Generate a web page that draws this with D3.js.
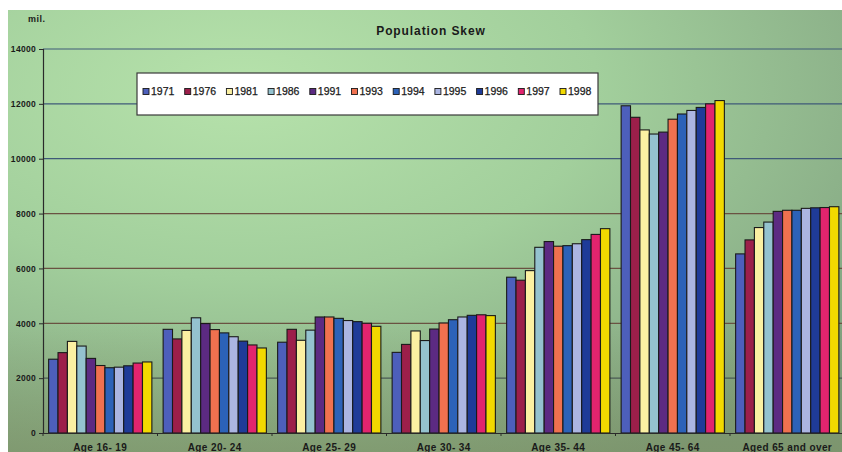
<!DOCTYPE html>
<html>
<head>
<meta charset="utf-8">
<script src="https://cdn.jsdelivr.net/npm/d3@7"></script>
<style>
  html, body { margin: 0; padding: 0; background: #fff; }
  svg { display: block; }
  text { font-family: "Liberation Sans", Arial, sans-serif; }
</style>
</head>
<body>
<svg id="chart" width="842" height="452"></svg>
<script>
// Age groups along the x axis
const categories = ["Age 16- 19", "Age 20- 24", "Age 25- 29", "Age 30- 34", "Age 35- 44", "Age 45- 64", "Aged 65 and over"];
// Census / estimate years (one bar each per age group)
const years = ["1971", "1976", "1981", "1986", "1991", "1993", "1994", "1995", "1996", "1997", "1998"];
// Population (thousands) per year, one value per age group
const s1971 = [2690, 3780, 3310, 2940, 5680, 11930, 6530];
const s1976 = [2930, 3430, 3780, 3230, 5570, 11510, 7040];
const s1981 = [3340, 3740, 3380, 3720, 5920, 11050, 7490];
const s1986 = [3170, 4200, 3750, 3370, 6770, 10900, 7690];
const s1991 = [2720, 3990, 4230, 3790, 6980, 10970, 8080];
const s1993 = [2460, 3770, 4230, 4010, 6810, 11440, 8120];
const s1994 = [2380, 3650, 4180, 4130, 6830, 11630, 8120];
const s1995 = [2400, 3510, 4100, 4230, 6900, 11760, 8190];
const s1996 = [2450, 3350, 4060, 4290, 7050, 11870, 8210];
const s1997 = [2550, 3210, 4000, 4310, 7240, 12000, 8220];
const s1998 = [2590, 3100, 3890, 4280, 7450, 12120, 8250];
const yTicks = [0, 2000, 4000, 6000, 8000, 10000, 12000, 14000];

const seriesValues = [s1971, s1976, s1981, s1986, s1991, s1993, s1994, s1995, s1996, s1997, s1998];
const colors = ["#4d5fbb", "#9c1f4a", "#fbf0a2", "#94c2cf", "#5c2a82", "#f0714f",
                "#2c62b8", "#abb5e2", "#1f3b98", "#e2246e", "#f2d900"];

const svg = d3.select("#chart");
const W = 842, H = 452;
const plotLeft = 43, plotRight = 844.5, plotTop = 49, plotBottom = 433;

// Background panel with soft green shading
const defs = svg.append("defs");
const rg = defs.append("radialGradient").attr("id", "bg")
  .attr("cx", "28%").attr("cy", "18%").attr("r", "95%");
rg.append("stop").attr("offset", "0%").attr("stop-color", "#b6e2ab");
rg.append("stop").attr("offset", "45%").attr("stop-color", "#a2cf9c");
rg.append("stop").attr("offset", "100%").attr("stop-color", "#7f9f7e");
const lg = defs.append("linearGradient").attr("id", "shade")
  .attr("x1", 0).attr("y1", 0).attr("x2", 0).attr("y2", 1);
lg.append("stop").attr("offset", "0%").attr("stop-color", "#7a8a5a").attr("stop-opacity", 0);
lg.append("stop").attr("offset", "70%").attr("stop-color", "#7a8a5a").attr("stop-opacity", 0);
lg.append("stop").attr("offset", "100%").attr("stop-color", "#7a8a5a").attr("stop-opacity", 0.45);

svg.append("rect").attr("x", 0).attr("y", 0).attr("width", W).attr("height", H).attr("fill", "#fff");
svg.append("rect").attr("x", 8).attr("y", 10).attr("width", W - 8).attr("height", H - 10).attr("fill", "url(#bg)");
svg.append("rect").attr("x", 8).attr("y", 10).attr("width", W - 8).attr("height", H - 10).attr("fill", "url(#shade)");

// Scales
const x0 = d3.scaleBand().domain(categories).range([plotLeft, plotRight]).padding(0);
const x1 = d3.scaleBand().domain(years).range([0, x0.bandwidth()]).paddingInner(0).paddingOuter(0.6);
const y = d3.scaleLinear().domain([0, 14000]).range([plotBottom, plotTop]);

// Horizontal gridlines
const gridColor = v => (v >= 10000 ? "#3f5a78" : (v >= 4000 ? "#6a5242" : "#4a5a55"));
svg.append("g").selectAll("line").data(yTicks.filter(v => v > 0)).join("line")
  .attr("x1", plotLeft).attr("x2", W)
  .attr("y1", d => y(d)).attr("y2", d => y(d))
  .attr("stroke", gridColor).attr("stroke-width", 1.2);

// Bars
const groups = svg.append("g").selectAll("g").data(categories).join("g")
  .attr("transform", d => `translate(${x0(d)},0)`);
groups.selectAll("rect")
  .data((c, ci) => years.map((yr, si) => ({ yr, si, v: seriesValues[si][ci] })))
  .join("rect")
  .attr("x", d => x1(d.yr))
  .attr("y", d => y(d.v))
  .attr("width", x1.bandwidth())
  .attr("height", d => y(0) - y(d.v))
  .attr("fill", d => colors[d.si])
  .attr("stroke", "#1a1a1a").attr("stroke-width", 1.1);

// Y axis
const yAxis = d3.axisLeft(y).tickValues(yTicks).tickSize(4).tickPadding(3).tickFormat(d3.format("d"));
const gy = svg.append("g").attr("transform", `translate(${plotLeft},0)`).call(yAxis);
gy.select(".domain").attr("stroke", "#2a2a2a").attr("stroke-width", 1.2);
gy.selectAll(".tick line").attr("stroke", "#2a2a2a");
gy.selectAll("text").attr("fill", "#1a1a1a").attr("font-size", 8.5).attr("font-weight", "bold")
  .attr("letter-spacing", 0.3)
  .attr("font-family", "'Liberation Sans', Arial, sans-serif");

// X axis
const xAxis = d3.axisBottom(x0).tickSize(0).tickPadding(11);
const gx = svg.append("g").attr("transform", `translate(0,${plotBottom})`).call(xAxis);
gx.select(".domain").attr("stroke", "#2a2a2a").attr("stroke-width", 1.2);
gx.selectAll("text").attr("fill", "#1a1a1a").attr("font-size", 10).attr("font-weight", "bold")
  .attr("letter-spacing", 0.4)
  .attr("font-family", "'Liberation Sans', Arial, sans-serif");
// Group separator ticks
gx.append("g").selectAll("line").data(categories).join("line")
  .attr("x1", d => x0(d)).attr("x2", d => x0(d))
  .attr("y1", 0).attr("y2", 3).attr("stroke", "#2a2a2a");

// Title and unit
svg.append("text").attr("x", 431).attr("y", 35).attr("text-anchor", "middle")
  .attr("font-size", 12).attr("font-weight", "bold").attr("fill", "#1a1a1a")
  .attr("letter-spacing", 0.9)
  .text("Population Skew");
svg.append("text").attr("x", 28).attr("y", 22)
  .attr("font-size", 9).attr("font-weight", "bold").attr("fill", "#1a1a1a")
  .attr("letter-spacing", 0.5)
  .text("mil.");

// Legend
const legend = svg.append("g");
legend.append("rect").attr("x", 137).attr("y", 73).attr("width", 461).attr("height", 42)
  .attr("fill", "#ffffff").attr("stroke", "#3a3a3a").attr("stroke-width", 1.2);
const leg = d3.scalePoint().domain(years).range([143, 560]);
const items = legend.selectAll("g.item").data(years).join("g").attr("class", "item")
  .attr("transform", d => `translate(${leg(d)},95)`);
items.append("rect").attr("x", 0).attr("y", -6.5).attr("width", 6).attr("height", 6)
  .attr("fill", (d, i) => colors[i]).attr("stroke", "#1a1a1a").attr("stroke-width", 0.9);
items.append("text").attr("x", 8).attr("y", 0).attr("font-size", 10.5).attr("fill", "#1a1a1a")
  .attr("stroke", "#1a1a1a").attr("stroke-width", 0.25)
  .text(d => d);
</script>
</body>
</html>
